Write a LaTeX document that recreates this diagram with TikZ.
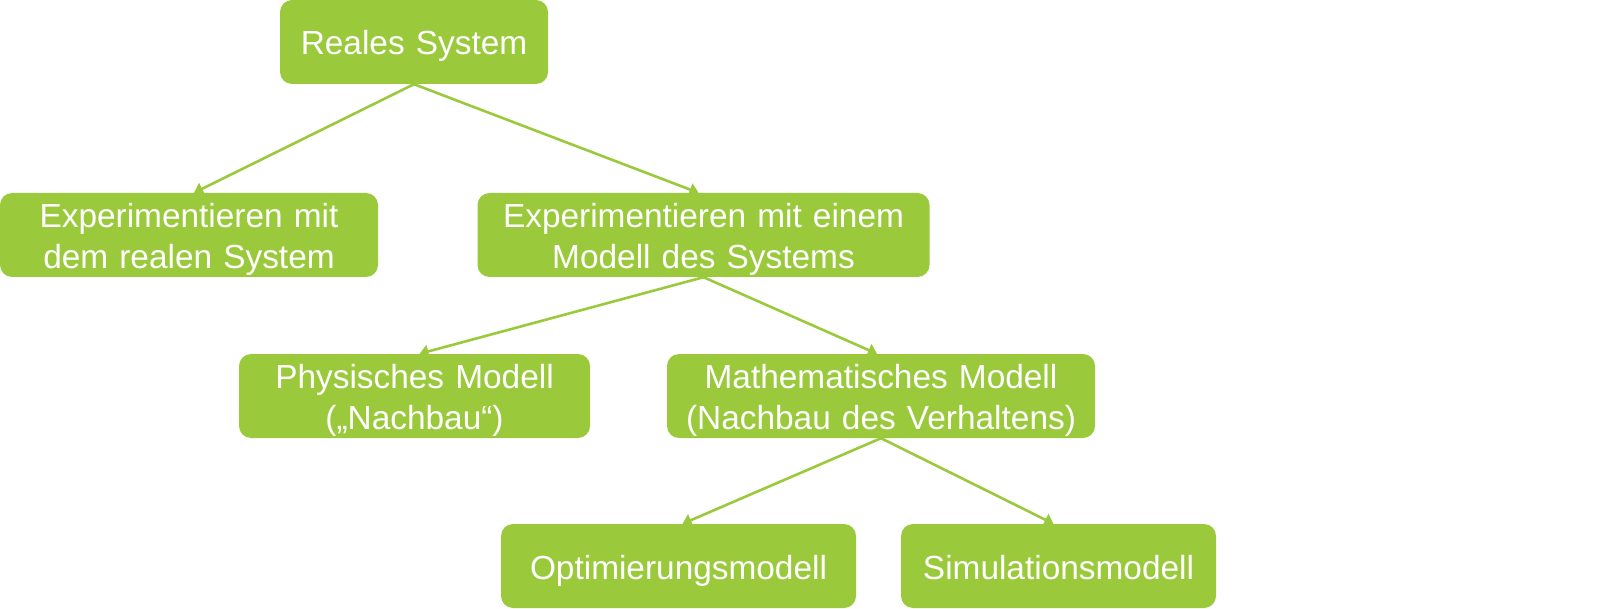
\documentclass[tikz,border=0pt]{standalone}
\usepackage{fontspec}
\setmainfont{Liberation Sans}
\usetikzlibrary{arrows.meta}
\definecolor{boxgreen}{HTML}{9ACA3C}
\newcommand{\boxstrut}{\rule[-7pt]{0pt}{40pt}}
\tikzset{
  box/.style={fill=boxgreen,text=white,rounded corners=12pt,inner sep=0pt,
    minimum height=84pt,minimum width=#1,text width=#1,align=center,
    font=\fontsize{33.4}{38.5}\selectfont,
    execute at begin node=\boxstrut,execute at end node=\boxstrut},
  link/.style={draw=boxgreen,line width=2.6pt,-{Triangle[length=9pt,width=13pt]}}
}
\begin{document}
\begin{tikzpicture}[x=1pt,y=-1pt]
\useasboundingbox (0,0) rectangle (1602,609);
\node[box=268pt] (real) at (414,42) {Reales System};
\node[box=378pt] (exreal) at (189,235) {Experimentieren mit\\dem realen System};
\node[box=452pt] (exmod) at (703.5,235) {Experimentieren mit einem\\Modell des Systems};
\node[box=351pt] (phys) at (414.5,396) {Physisches Modell\\(„Nachbau“)};
\node[box=428pt] (math) at (881,396) {Mathematisches Modell\\(Nachbau des Verhaltens)};
\node[box=355pt] (opt) at (678.5,566) {Optimierungsmodell};
\node[box=315pt] (sim) at (1058.5,566) {Simulationsmodell};
% connectors
\draw[link] (real.south) -- ([xshift=5pt]exreal.north);
\draw[link] (real.south) -- ([xshift=-5pt]exmod.north);
\draw[link] (exmod.south) -- ([xshift=5pt]phys.north);
\draw[link] (exmod.south) -- ([xshift=-4pt]math.north);
\draw[link] (math.south) -- ([xshift=4pt]opt.north);
\draw[link] (math.south) -- ([xshift=-5pt]sim.north);
\end{tikzpicture}
\end{document}
